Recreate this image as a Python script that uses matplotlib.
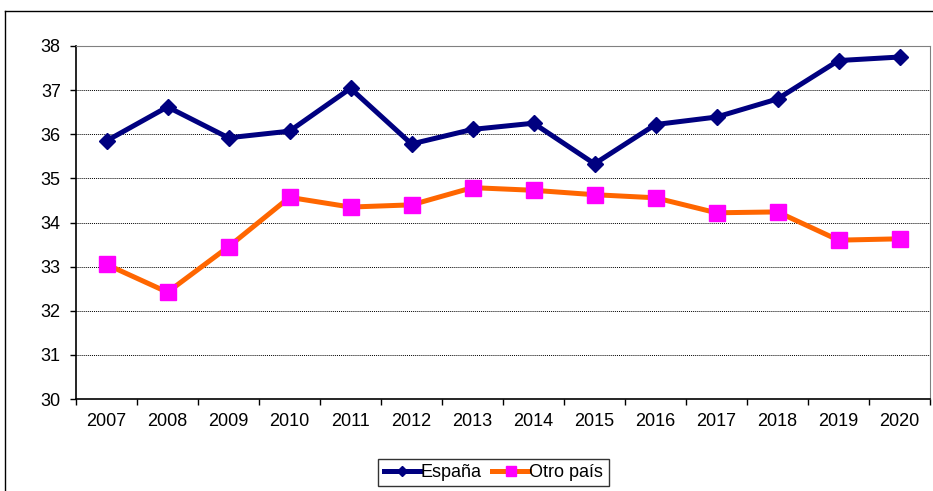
import matplotlib
matplotlib.use("Agg")
import matplotlib.pyplot as plt
from matplotlib.lines import Line2D
import numpy as np

plt.rcParams["font.family"] = ["Liberation Sans", "DejaVu Sans"]

years = ["2007", "2008", "2009", "2010", "2011", "2012", "2013",
         "2014", "2015", "2016", "2017", "2018", "2019", "2020"]
espana = [35.85, 36.62, 35.92, 36.07, 37.04, 35.78, 36.11,
          36.25, 35.33, 36.22, 36.39, 36.80, 37.67, 37.75]
otro_pais = [33.05, 32.42, 33.45, 34.57, 34.35, 34.40, 34.79,
             34.73, 34.63, 34.56, 34.22, 34.24, 33.60, 33.63]

fig = plt.figure(figsize=(9.33, 4.91), dpi=100)
ax = fig.add_axes([76 / 933, 92 / 491, 854 / 933, 353 / 491])

# outer chart frame (top and left edges visible)
fig.add_artist(Line2D([5 / 933, 1.0], [1 - 11 / 491, 1 - 11 / 491],
                      transform=fig.transFigure, color="black", lw=1))
fig.add_artist(Line2D([5 / 933, 5 / 933], [0, 1 - 11 / 491],
                      transform=fig.transFigure, color="black", lw=1))

x = np.arange(len(years))

ax.plot(x, espana, color="#000080", lw=3.6, marker="D", ms=8,
        markerfacecolor="#000080", markeredgecolor="#000080", zorder=3)
ax.plot(x, otro_pais, color="#FF6600", lw=3.6, marker="s", ms=12,
        markerfacecolor="#FF00FF", markeredgecolor="#FF00FF", zorder=3)

ax.set_xlim(-0.5, len(years) - 0.5)
ax.set_ylim(30, 38)
ax.set_yticks(np.arange(30, 39, 1))

# Excel style: tick marks between categories, labels in the middle
ax.set_xticks(np.arange(-0.5, len(years), 1))
ax.set_xticklabels([])
ax.set_xticks(x, minor=True)
ax.set_xticklabels(years, minor=True)
ax.tick_params(axis="x", which="major", direction="out", length=4, width=1)
ax.tick_params(axis="x", which="minor", length=0, pad=10, labelsize=13)
ax.tick_params(axis="y", direction="out", length=4, width=1, pad=7,
               labelsize=13)

ax.yaxis.grid(True, color="black", linestyle=(0, (1, 1)), lw=0.7)
ax.set_axisbelow(True)

for side in ["top", "right"]:
    ax.spines[side].set_color("#808080")
for side in ["left", "bottom"]:
    ax.spines[side].set_color("black")
    ax.spines[side].set_linewidth(1.2)

handles = [
    Line2D([], [], color="#000080", lw=3.6, marker="D", ms=5,
           markerfacecolor="#000080", markeredgecolor="#000080"),
    Line2D([], [], color="#FF6600", lw=3.6, marker="s", ms=7,
           markerfacecolor="#FF00FF", markeredgecolor="#FF00FF"),
]
leg = fig.legend(handles, ["España", "Otro país"], loc="center",
                 bbox_to_anchor=(493.5 / 933, 1 - 472.5 / 491), ncol=2,
                 frameon=True, fancybox=False, fontsize=13,
                 handlelength=2.0, handletextpad=0.05, columnspacing=0.6,
                 borderpad=0.3, borderaxespad=0)
leg.get_frame().set_edgecolor("black")
leg.get_frame().set_linewidth(1)

fig.savefig("out.png", dpi=100)
plt.close(fig)
